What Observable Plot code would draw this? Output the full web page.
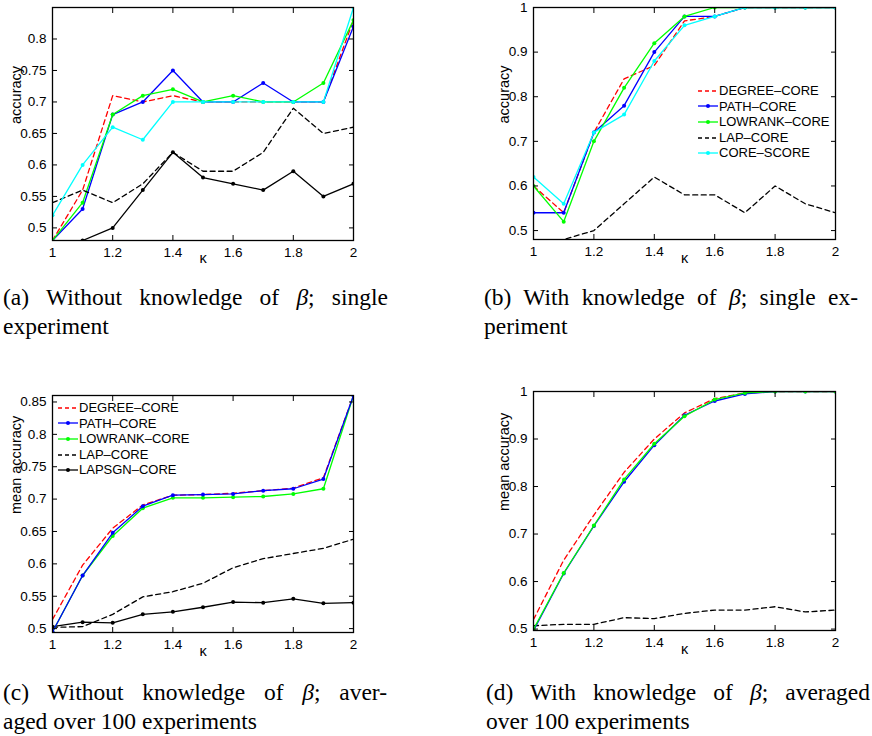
<!DOCTYPE html>
<html>
<head>
<meta charset="utf-8">
<script src="https://cdn.jsdelivr.net/npm/d3@7"></script>
<script src="https://cdn.jsdelivr.net/npm/@observablehq/plot@0.6"></script>
<style>
  html, body { margin: 0; padding: 0; background: #fff; }
  body { width: 872px; height: 736px; position: relative; overflow: hidden; font-family: "Liberation Sans", Arial, sans-serif; color: #000; }
  .panel { position: absolute; }
  .panel svg { display: block; }
  .cap { position: absolute; font-family: "Liberation Serif", "DejaVu Serif", "Noto Serif", serif; font-size: 23.5px; line-height: 29px; color: #000; }
  .cap .l1 { text-align: justify; text-align-last: justify; }
  .legend { position: absolute; font-family: "Liberation Sans", Arial, sans-serif; font-size: 13px; line-height: 15.6px; }
  .legend .row { display: flex; align-items: center; height: 15.6px; white-space: nowrap; }
  .legend svg { display: block; margin-right: 1px; }
</style>
</head>
<body>
<script>
// ---------------- data ----------------
const kappa = [1.0, 1.1, 1.2, 1.3, 1.4, 1.5, 1.6, 1.7, 1.8, 1.9, 2.0];
const xTicks = [1, 1.2, 1.4, 1.6, 1.8, 2];
const yTicksA = [0.5, 0.55, 0.6, 0.65, 0.7, 0.75, 0.8];
const yTicksB = [0.5, 0.6, 0.7, 0.8, 0.9, 1];
const yTicksC = [0.5, 0.55, 0.6, 0.65, 0.7, 0.75, 0.8, 0.85];
const yTicksD = [0.5, 0.6, 0.7, 0.8, 0.9, 1];

// (a) without knowledge of beta, single experiment
const degreeA    = [0.48, 0.56, 0.71, 0.70, 0.71, 0.70, 0.70, 0.70, 0.70, 0.70, 0.83];
const pathA      = [0.48, 0.53, 0.68, 0.70, 0.75, 0.70, 0.70, 0.73, 0.70, 0.70, 0.82];
const lowrankA   = [0.48, 0.54, 0.68, 0.71, 0.72, 0.70, 0.71, 0.70, 0.70, 0.73, 0.83];
const lapA       = [0.54, 0.56, 0.54, 0.57, 0.62, 0.59, 0.59, 0.62, 0.69, 0.65, 0.66];
const coreScoreA = [0.52, 0.60, 0.66, 0.64, 0.70, 0.70, 0.70, 0.70, 0.70, 0.70, 0.85];
const lapsgnA    = [0.46, 0.48, 0.50, 0.56, 0.62, 0.58, 0.57, 0.56, 0.59, 0.55, 0.57];

// (b) with knowledge of beta, single experiment
const degreeB    = [0.60, 0.54, 0.72, 0.84, 0.87, 0.97, 0.98, 1, 1, 1, 1];
const pathB      = [0.54, 0.54, 0.72, 0.78, 0.90, 0.98, 0.98, 1, 1, 1, 1];
const lowrankB   = [0.60, 0.52, 0.70, 0.82, 0.92, 0.98, 1.00, 1, 1, 1, 1];
const lapB       = [0.46, 0.48, 0.50, 0.56, 0.62, 0.58, 0.58, 0.54, 0.60, 0.56, 0.54];
const coreScoreB = [0.62, 0.56, 0.72, 0.76, 0.88, 0.96, 0.98, 1, 1, 1, 1];

// (c) without knowledge of beta, averaged over 100 experiments
const degreeC  = [0.514, 0.598, 0.655, 0.691, 0.706, 0.707, 0.709, 0.713, 0.717, 0.733, 0.86];
const pathC    = [0.495, 0.582, 0.648, 0.689, 0.706, 0.707, 0.708, 0.713, 0.716, 0.731, 0.86];
const lowrankC = [0.495, 0.582, 0.643, 0.686, 0.702, 0.702, 0.703, 0.704, 0.708, 0.716, 0.86];
const lapC     = [0.502, 0.503, 0.522, 0.549, 0.557, 0.570, 0.594, 0.608, 0.616, 0.624, 0.638];
const lapsgnC  = [0.503, 0.510, 0.509, 0.522, 0.526, 0.533, 0.541, 0.540, 0.546, 0.539, 0.540];

// (d) with knowledge of beta, averaged over 100 experiments
const degreeD  = [0.520, 0.645, 0.740, 0.830, 0.900, 0.955, 0.985, 0.997, 1, 1, 1];
const pathD    = [0.497, 0.617, 0.717, 0.810, 0.887, 0.950, 0.980, 0.995, 1, 1, 1];
const lowrankD = [0.500, 0.618, 0.718, 0.815, 0.890, 0.948, 0.983, 0.997, 1, 1, 1];
const lapD     = [0.507, 0.510, 0.510, 0.524, 0.522, 0.533, 0.540, 0.540, 0.547, 0.536, 0.540];

const captionA = ["(a) Without knowledge of <i>β</i>; single", "experiment"];
const captionB = ["(b) With knowledge of <i>β</i>; single ex-", "periment"];
const captionC = ["(c) Without knowledge of <i>β</i>; aver-", "aged over 100 experiments"];
const captionD = ["(d) With knowledge of <i>β</i>; averaged", "over 100 experiments"];

// ---------------- styles ----------------
const STYLE = {
  "DEGREE–CORE":  {color: "#ff0000", dash: true,  dot: false},
  "PATH–CORE":    {color: "#0000ff", dash: false, dot: true},
  "LOWRANK–CORE": {color: "#00ff00", dash: false, dot: true},
  "LAP–CORE":     {color: "#000000", dash: true,  dot: false},
  "CORE–SCORE":   {color: "#00ffff", dash: false, dot: true},
  "LAPSGN–CORE":  {color: "#000000", dash: false, dot: true}
};
const DASH = "5,3.5";

function seriesMarks(series) {
  const marks = [];
  for (const [name, vals] of series) {
    const st = STYLE[name];
    const rows = kappa.map((k, i) => ({kappa: k, acc: vals[i]}));
    marks.push(Plot.line(rows, {x: "kappa", y: "acc", stroke: st.color, strokeWidth: 1.3,
      strokeDasharray: st.dash ? DASH : null, clip: true}));
    if (st.dot) marks.push(Plot.dot(rows, {x: "kappa", y: "acc", r: 2, fill: st.color, stroke: "none", clip: true}));
  }
  return marks;
}

const fmt = d => String(+(+d).toFixed(2));

function panel({left, top, width, height, mL, mR, mT, mB, yDomain, yTicks, yLabel, labelDx, kDy, series}) {
  const chart = Plot.plot({
    width, height, marginLeft: mL, marginRight: mR, marginTop: mT, marginBottom: mB,
    style: {fontFamily: "Liberation Sans, Arial, sans-serif", fontSize: "13.5px", color: "#000", background: "transparent", overflow: "visible"},
    x: {domain: [1, 2]},
    y: {domain: yDomain},
    marks: [
      ...seriesMarks(series),
      Plot.frame({stroke: "#000", strokeWidth: 1.3}),
      Plot.axisX(xTicks, {anchor: "bottom", tickSize: -5, tickPadding: 12, tickFormat: fmt, label: null, fontSize: 13.5}),
      Plot.axisX(xTicks, {anchor: "top", tickSize: -5, tickFormat: () => "", label: null}),
      Plot.axisY(yTicks, {anchor: "left", tickSize: -5, tickPadding: 11, tickFormat: fmt, label: null, fontSize: 13.5}),
      Plot.axisY(yTicks, {anchor: "right", tickSize: -5, tickFormat: () => "", label: null}),
      Plot.text([yLabel], {frameAnchor: "left", text: d => d, rotate: -90, dx: labelDx, fontSize: 14.5}),
      Plot.text(["κ"], {frameAnchor: "bottom", text: d => d, dy: kDy, fontSize: 14.5})
    ]
  });
  const div = document.createElement("div");
  div.className = "panel";
  div.style.left = left + "px";
  div.style.top = top + "px";
  div.appendChild(chart);
  document.body.appendChild(div);
}

function caption(lines, left, top, width) {
  const div = document.createElement("div");
  div.className = "cap";
  div.style.left = left + "px";
  div.style.top = top + "px";
  div.style.width = width + "px";
  div.innerHTML = `<div class="l1">${lines[0]}</div><div>${lines[1]}</div>`;
  document.body.appendChild(div);
}

function legend(names, left, top) {
  const div = document.createElement("div");
  div.className = "legend";
  div.style.left = left + "px";
  div.style.top = top + "px";
  for (const name of names) {
    const st = STYLE[name];
    const row = document.createElement("div");
    row.className = "row";
    const svg = d3.create("svg").attr("width", 20).attr("height", 10);
    svg.append("line").attr("x1", 0).attr("x2", 20).attr("y1", 5).attr("y2", 5)
      .attr("stroke", st.color).attr("stroke-width", 1.3)
      .attr("stroke-dasharray", st.dash ? "4,3" : null);
    if (st.dot) svg.append("circle").attr("cx", 10).attr("cy", 5).attr("r", 2).attr("fill", st.color);
    row.appendChild(svg.node());
    const span = document.createElement("span");
    span.textContent = name;
    row.appendChild(span);
    div.appendChild(row);
  }
  document.body.appendChild(div);
}

// (a)
panel({left: 0, top: 0, width: 360, height: 272, mL: 52, mR: 7, mT: 7, mB: 32,
  yDomain: [0.48, 0.85], yTicks: yTicksA, yLabel: "accuracy", labelDx: -36, kDy: 22,
  series: [["DEGREE–CORE", degreeA], ["PATH–CORE", pathA], ["LOWRANK–CORE", lowrankA],
           ["LAP–CORE", lapA], ["CORE–SCORE", coreScoreA], ["LAPSGN–CORE", lapsgnA]]});
// (b)
panel({left: 440, top: 0, width: 432, height: 272, mL: 93, mR: 37, mT: 7, mB: 33,
  yDomain: [0.48, 1], yTicks: yTicksB, yLabel: "accuracy", labelDx: -29, kDy: 23,
  series: [["DEGREE–CORE", degreeB], ["PATH–CORE", pathB], ["LOWRANK–CORE", lowrankB],
           ["LAP–CORE", lapB], ["CORE–SCORE", coreScoreB]]});
// (c)
panel({left: 0, top: 380, width: 360, height: 285, mL: 52, mR: 7, mT: 15, mB: 33,
  yDomain: [0.494, 0.86], yTicks: yTicksC, yLabel: "mean accuracy", labelDx: -36, kDy: 23,
  series: [["DEGREE–CORE", degreeC], ["LAP–CORE", lapC], ["LAPSGN–CORE", lapsgnC],
           ["LOWRANK–CORE", lowrankC], ["PATH–CORE", pathC]]});
// (d)
panel({left: 440, top: 376, width: 432, height: 289, mL: 93, mR: 37, mT: 15, mB: 35,
  yDomain: [0.497, 1], yTicks: yTicksD, yLabel: "mean accuracy", labelDx: -29, kDy: 23,
  series: [["DEGREE–CORE", degreeD], ["LAP–CORE", lapD], ["PATH–CORE", pathD], ["LOWRANK–CORE", lowrankD]]});

legend(["DEGREE–CORE", "PATH–CORE", "LOWRANK–CORE", "LAP–CORE", "CORE–SCORE"], 698, 83);
legend(["DEGREE–CORE", "PATH–CORE", "LOWRANK–CORE", "LAP–CORE", "LAPSGN–CORE"], 58, 400);

caption(captionA, 3, 283, 385);
caption(captionB, 484, 283, 374);
caption(captionC, 3, 678, 384);
caption(captionD, 486, 678, 384);
</script>
</body>
</html>
